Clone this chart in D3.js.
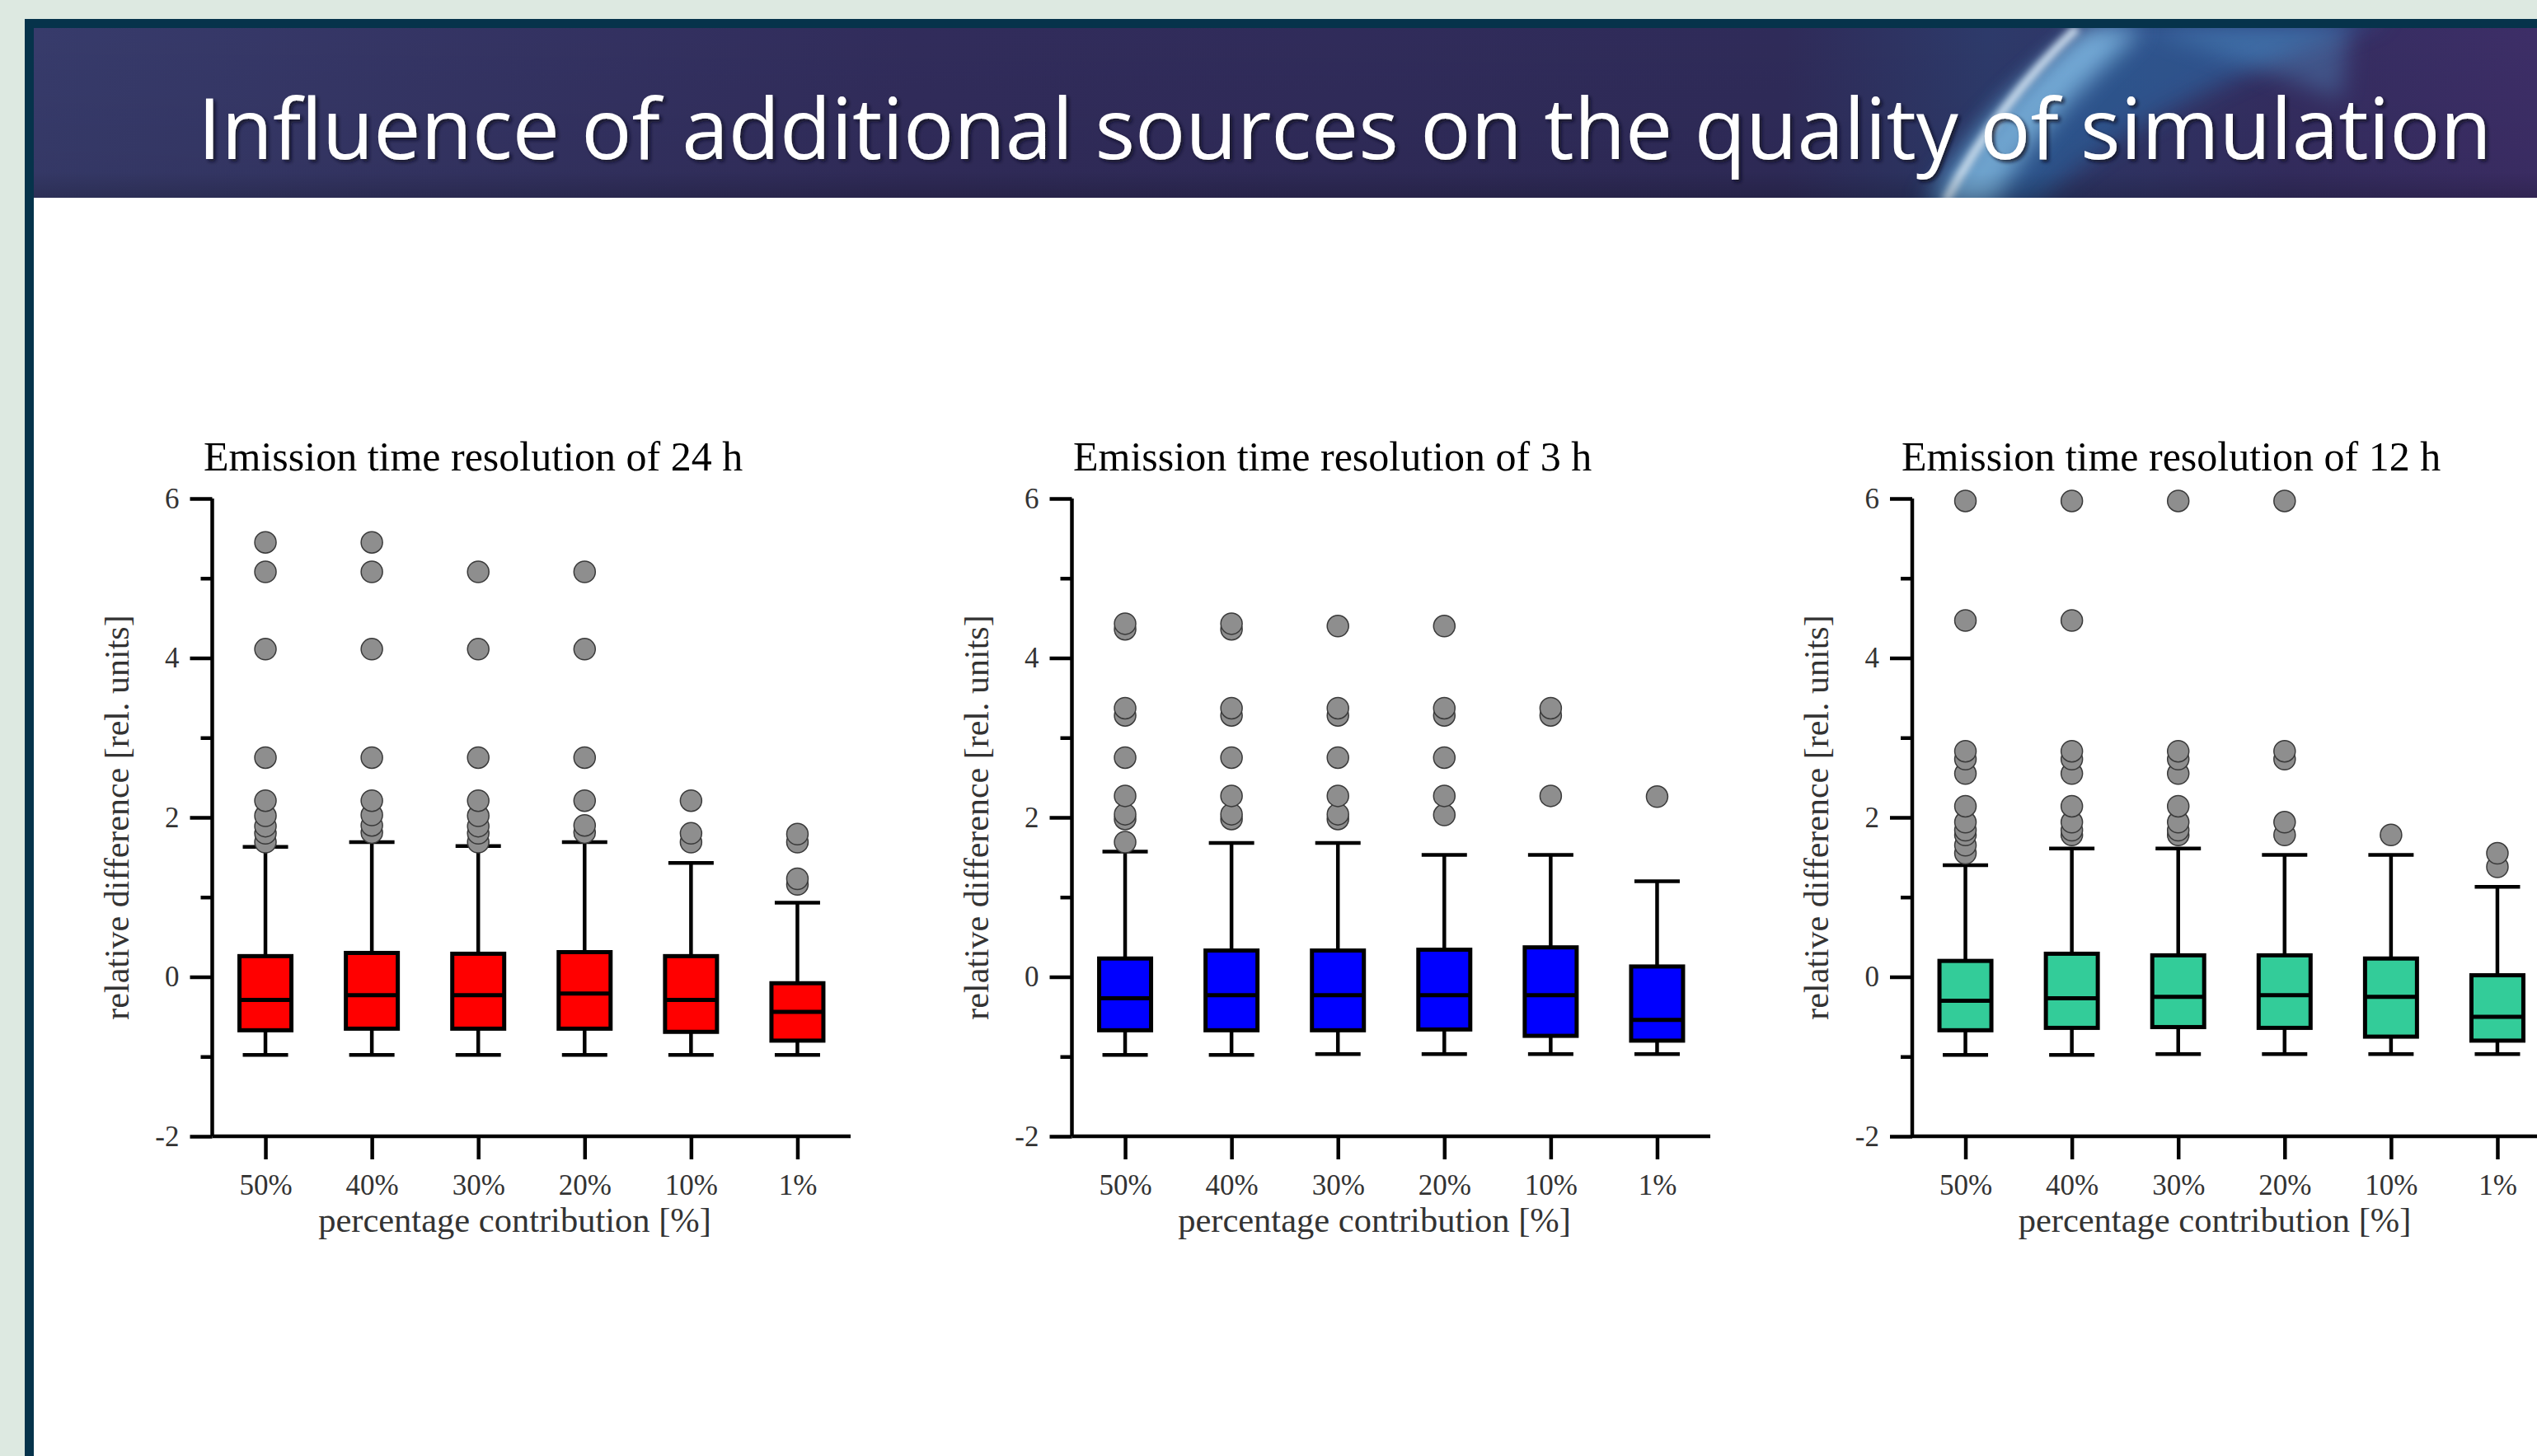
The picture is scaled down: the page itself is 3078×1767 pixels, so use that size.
<!DOCTYPE html>
<html>
<head>
<meta charset="utf-8">
<script src="https://cdn.jsdelivr.net/npm/d3@7"></script>
<style>
  html, body { margin: 0; padding: 0; background: #ffffff; }
  svg { display: block; }
</style>
</head>
<body>
<svg id="chart" width="3078" height="1767"></svg>
<script>
// ---- data ----
var categories = ["50%", "40%", "30%", "20%", "10%", "1%"];
var panelTitles = [
  "Emission time resolution of 24 h",
  "Emission time resolution of 3 h",
  "Emission time resolution of 12 h"
];
var yTicks = [-2, -1, 0, 1, 2, 3, 4, 5, 6];

// 24 h
var hi24 = [1.63, 1.69, 1.64, 1.69, 1.43, 0.93];
var q3_24 = [0.26, 0.30, 0.29, 0.31, 0.26, -0.08];
var med24 = [-0.29, -0.23, -0.23, -0.21, -0.29, -0.44];
var q1_24 = [-0.67, -0.65, -0.65, -0.65, -0.69, -0.80];
var lo24 = [-0.98, -0.98, -0.98, -0.98, -0.98, -0.98];
var out24 = [
  [5.45, 5.08, 4.11, 2.75, 2.21, 2.02, 1.89, 1.80, 1.69],
  [5.45, 5.08, 4.11, 2.75, 2.21, 2.03, 1.90, 1.81],
  [5.08, 4.11, 2.75, 2.21, 2.02, 1.89, 1.80, 1.69],
  [5.08, 4.11, 2.75, 2.21, 1.90, 1.81],
  [2.21, 1.80, 1.69],
  [1.79, 1.69, 1.23, 1.16]
];

// 3 h
var hi3 = [1.57, 1.68, 1.68, 1.53, 1.53, 1.20];
var q3_3 = [0.23, 0.33, 0.33, 0.34, 0.37, 0.13];
var med3 = [-0.27, -0.23, -0.23, -0.23, -0.23, -0.54];
var q1_3 = [-0.67, -0.67, -0.67, -0.66, -0.74, -0.80];
var lo3 = [-0.98, -0.98, -0.97, -0.97, -0.97, -0.97];
var out3 = [
  [4.43, 4.36, 3.37, 3.28, 2.75, 2.27, 2.04, 1.98, 1.69],
  [4.43, 4.36, 3.37, 3.28, 2.75, 2.27, 2.04, 1.98],
  [4.40, 3.37, 3.28, 2.75, 2.27, 2.04, 1.98],
  [4.40, 3.37, 3.28, 2.75, 2.27, 2.03],
  [3.37, 3.28, 2.27],
  [2.26]
];

// 12 h
var hi12 = [1.40, 1.61, 1.61, 1.53, 1.53, 1.13];
var q3_12 = [0.20, 0.29, 0.27, 0.27, 0.23, 0.02];
var med12 = [-0.30, -0.27, -0.25, -0.23, -0.25, -0.50];
var q1_12 = [-0.67, -0.64, -0.63, -0.64, -0.75, -0.80];
var lo12 = [-0.98, -0.98, -0.97, -0.97, -0.97, -0.97];
var out12 = [
  [5.97, 4.47, 2.83, 2.73, 2.55, 2.14, 1.94, 1.84, 1.78, 1.65, 1.55],
  [5.97, 4.47, 2.83, 2.73, 2.55, 2.14, 1.94, 1.84, 1.78],
  [5.97, 2.83, 2.73, 2.55, 2.14, 1.94, 1.84, 1.78],
  [5.97, 2.83, 2.73, 1.94, 1.78],
  [1.78],
  [1.55, 1.38]
];

var series = [
  { lo: lo24, q1: q1_24, med: med24, q3: q3_24, hi: hi24, out: out24 },
  { lo: lo3, q1: q1_3, med: med3, q3: q3_3, hi: hi3, out: out3 },
  { lo: lo12, q1: q1_12, med: med12, q3: q3_12, hi: hi12, out: out12 }
];

// ---- layout ----
var boxColors = ["#ff0000", "#0000ff", "#33cc99"];
var axisXs = [257.5, 1300.5, 2320];
var titleXs = [247, 1302, 2307];
var plotW = 774.5;
var yTop = 605, yBottom = 1379;
var serif = "'Liberation Serif', 'Times New Roman', serif";

var svg = d3.select("#chart");
var defs = svg.append("defs");

// ---- slide header ----
svg.append("rect").attr("x", 0).attr("y", 0).attr("width", 3078).attr("height", 1767).attr("fill", "#dde9e1");
svg.append("rect").attr("x", 30).attr("y", 23).attr("width", 3048).attr("height", 1744).attr("fill", "#06334b");
svg.append("rect").attr("x", 41).attr("y", 34).attr("width", 3037).attr("height", 1733).attr("fill", "#ffffff");

var bannerGrad = defs.append("linearGradient").attr("id", "banner").attr("x1", 0).attr("x2", 1).attr("y1", 0).attr("y2", 0);
[[0, "#373b6b"], [0.35, "#312c5b"], [0.7, "#2f2b59"], [0.78, "#2d3a6a"], [0.9, "#342d60"], [1, "#3d2e67"]].forEach(function (s) {
  bannerGrad.append("stop").attr("offset", s[0]).attr("stop-color", s[1]);
});
var shadeGrad = defs.append("linearGradient").attr("id", "shade").attr("x1", 0).attr("x2", 0).attr("y1", 0).attr("y2", 1);
shadeGrad.append("stop").attr("offset", 0).attr("stop-color", "#000").attr("stop-opacity", 0);
shadeGrad.append("stop").attr("offset", 0.85).attr("stop-color", "#000").attr("stop-opacity", 0.05);
shadeGrad.append("stop").attr("offset", 1).attr("stop-color", "#000").attr("stop-opacity", 0.2);

defs.append("filter").attr("id", "blur").attr("x", "-50%").attr("y", "-50%").attr("width", "200%").attr("height", "200%")
  .append("feGaussianBlur").attr("stdDeviation", 14);
defs.append("filter").attr("id", "blurSmall").attr("x", "-50%").attr("y", "-50%").attr("width", "200%").attr("height", "200%")
  .append("feGaussianBlur").attr("stdDeviation", 4);
var shadow = defs.append("filter").attr("id", "txtShadow").attr("x", "-5%").attr("y", "-20%").attr("width", "110%").attr("height", "140%");
shadow.append("feDropShadow").attr("dx", 3).attr("dy", 3).attr("stdDeviation", 2).attr("flood-color", "#0a0a20").attr("flood-opacity", 0.8);

defs.append("clipPath").attr("id", "bannerClip")
  .append("rect").attr("x", 41).attr("y", 34).attr("width", 3037).attr("height", 206);

var banner = svg.append("g").attr("clip-path", "url(#bannerClip)");
banner.append("rect").attr("x", 41).attr("y", 34).attr("width", 3037).attr("height", 206).attr("fill", "url(#banner)");
// globe swoosh
banner.append("path")
  .attr("d", "M2330,250 C2380,160 2470,80 2560,20 L2900,20 C2760,70 2560,150 2470,250 Z")
  .attr("fill", "#2e6fb0").attr("opacity", 0.55).attr("filter", "url(#blur)");
banner.append("path")
  .attr("d", "M2345,250 C2390,170 2450,100 2530,34 L2600,34 C2520,110 2450,180 2420,250 Z")
  .attr("fill", "#8cc8f0").attr("opacity", 0.75).attr("filter", "url(#blur)");
banner.append("path")
  .attr("d", "M2360,245 C2400,170 2450,100 2520,34")
  .attr("fill", "none").attr("stroke", "#e6f4ff").attr("stroke-width", 10).attr("opacity", 0.85).attr("filter", "url(#blurSmall)");
banner.append("path")
  .attr("d", "M2600,34 C2680,60 2760,90 2840,120 L2850,34 Z")
  .attr("fill", "#5aa0d8").attr("opacity", 0.35).attr("filter", "url(#blur)");
banner.append("rect").attr("x", 41).attr("y", 34).attr("width", 3037).attr("height", 206).attr("fill", "url(#shade)");

svg.append("text")
  .attr("x", 240).attr("y", 193)
  .attr("textLength", 2783).attr("lengthAdjust", "spacingAndGlyphs")
  .attr("font-family", "'Open Sans', 'Noto Sans', sans-serif")
  .attr("font-size", 102)
  .attr("fill", "#ffffff")
  .attr("filter", "url(#txtShadow)")
  .text("Influence of additional sources on the quality of simulation");

// ---- box plot panels ----
var y = d3.scaleLinear().domain([-2, 6]).range([yBottom, yTop]);

series.forEach(function (s, p) {
  var ax = axisXs[p];
  var x = d3.scalePoint().domain(categories).range([ax, ax + plotW]).padding(0.5);
  var g = svg.append("g");

  // title
  g.append("text")
    .attr("x", titleXs[p]).attr("y", 571)
    .attr("font-family", serif).attr("font-size", 50).attr("fill", "#000")
    .text(panelTitles[p]);

  // y axis
  var yAxis = d3.axisLeft(y)
    .tickValues(yTicks)
    .tickSize(27)
    .tickSizeOuter(0)
    .tickPadding(13)
    .tickFormat(function (d) { return d % 2 === 0 ? String(d) : ""; });
  var yg = g.append("g").attr("transform", "translate(" + ax + ",0)").call(yAxis);
  yg.selectAll(".tick line")
    .attr("x2", function (d) { return d % 2 === 0 ? -27 : -14; });

  // x axis
  var xAxis = d3.axisBottom(x).tickSize(28).tickSizeOuter(0).tickPadding(18);
  var xg = g.append("g").attr("transform", "translate(0," + yBottom + ")").call(xAxis);

  [yg, xg].forEach(function (a) {
    a.select(".domain").attr("stroke", "#000").attr("stroke-width", 4.5);
    a.selectAll(".tick line").attr("stroke", "#000").attr("stroke-width", 4.5);
    a.selectAll(".tick text")
      .attr("font-family", serif).attr("font-size", 35).attr("fill", "#333");
  });
  yg.select(".domain").attr("d", "M0," + yTop + "V" + yBottom);
  xg.select(".domain").attr("d", "M" + ax + ",0H" + (ax + plotW));

  // axis titles
  g.append("text")
    .attr("transform", "translate(" + (ax - 116) + "," + ((yTop + yBottom) / 2) + ") rotate(-90)")
    .attr("text-anchor", "middle").attr("dominant-baseline", "central")
    .attr("font-family", serif).attr("font-size", 42).attr("fill", "#333")
    .text("relative difference [rel. units]");
  g.append("text")
    .attr("x", ax + 367).attr("y", 1495)
    .attr("text-anchor", "middle")
    .attr("font-family", serif).attr("font-size", 42.5).attr("fill", "#333")
    .text("percentage contribution [%]");

  var boxW = 63, capW = 55;
  var items = g.selectAll(".item").data(categories).join("g").attr("class", "item");

  // whisker stems
  items.append("line")
    .attr("x1", function (d) { return x(d); }).attr("x2", function (d) { return x(d); })
    .attr("y1", function (d, i) { return y(s.lo[i]); })
    .attr("y2", function (d, i) { return y(s.hi[i]); })
    .attr("stroke", "#000").attr("stroke-width", 4.5);
  // caps
  ["lo", "hi"].forEach(function (k) {
    items.append("line")
      .attr("x1", function (d) { return x(d) - capW / 2; })
      .attr("x2", function (d) { return x(d) + capW / 2; })
      .attr("y1", function (d, i) { return y(s[k][i]); })
      .attr("y2", function (d, i) { return y(s[k][i]); })
      .attr("stroke", "#000").attr("stroke-width", 4.5);
  });
  // boxes
  items.append("rect")
    .attr("x", function (d) { return x(d) - boxW / 2; })
    .attr("y", function (d, i) { return y(s.q3[i]); })
    .attr("width", boxW)
    .attr("height", function (d, i) { return y(s.q1[i]) - y(s.q3[i]); })
    .attr("fill", boxColors[p]).attr("stroke", "#000").attr("stroke-width", 5);
  // medians
  items.append("line")
    .attr("x1", function (d) { return x(d) - boxW / 2; })
    .attr("x2", function (d) { return x(d) + boxW / 2; })
    .attr("y1", function (d, i) { return y(s.med[i]); })
    .attr("y2", function (d, i) { return y(s.med[i]); })
    .attr("stroke", "#000").attr("stroke-width", 5);
  // outliers
  items.each(function (d, i) {
    d3.select(this).selectAll("circle")
      .data(s.out[i].slice().reverse())
      .join("circle")
      .attr("cx", x(d))
      .attr("cy", function (v) { return y(v); })
      .attr("r", 13)
      .attr("fill", "#8e8e8e").attr("stroke", "#3a3a3a").attr("stroke-width", 1.5);
  });
});
</script>
</body>
</html>
